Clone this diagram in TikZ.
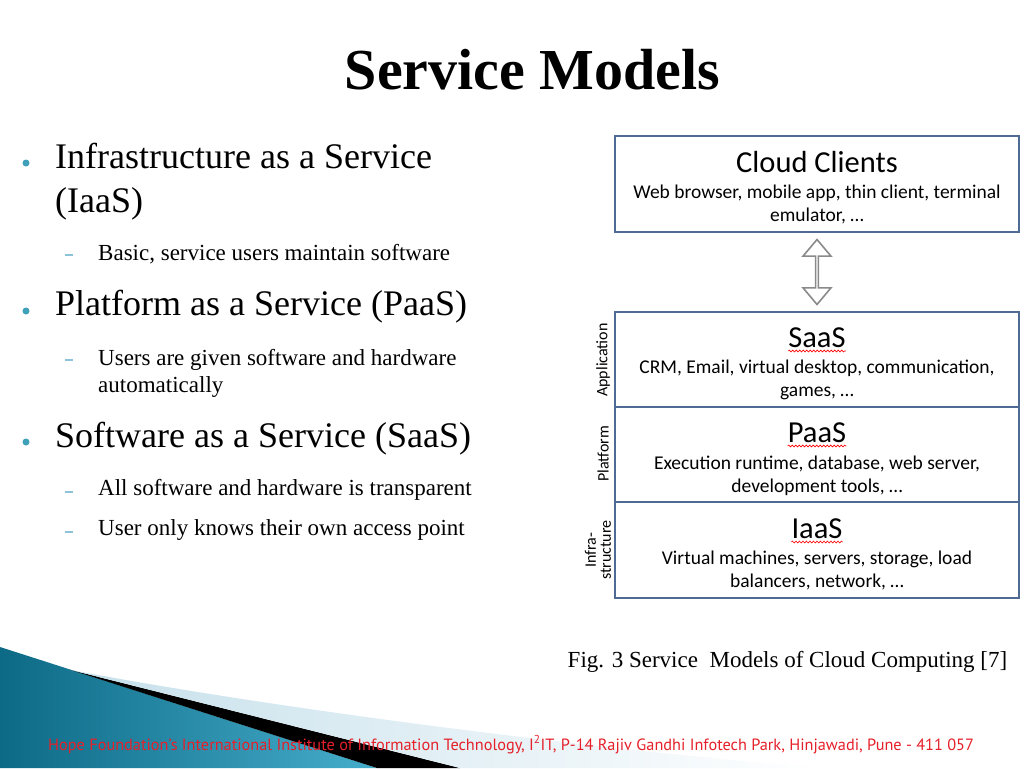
\documentclass[tikz,border=0pt]{standalone}
\usepackage{fontspec}
\setmainfont{Liberation Serif}
\newfontfamily\boxfont{Carlito}
\newfontfamily\footfont{PT Sans}
\usetikzlibrary{positioning,calc,shapes.arrows,decorations.pathmorphing}
\definecolor{boxblue}{HTML}{4F6B94}
\definecolor{arrowgray}{HTML}{8A8A8A}
\definecolor{bulletteal}{HTML}{3FA0BA}
\definecolor{subblue}{HTML}{8CC3DA}
\definecolor{footred}{HTML}{E5202A}
\definecolor{tealdark}{HTML}{0D6A86}
\definecolor{teallight}{HTML}{45ADCB}
\definecolor{paleblue}{HTML}{C6E0EB}

\begin{document}
\begin{tikzpicture}[x=1pt, y=-1pt,
  layer/.style={draw=boxblue, line width=2pt, minimum width=404pt, inner sep=0pt},
  ttl/.style={font=\boxfont\fontsize{30.5}{34}\selectfont, inner sep=0pt, anchor=base},
  desc/.style={font=\boxfont\fontsize{19.5}{23}\selectfont, align=center, inner sep=0pt},
  side/.style={font=\boxfont\fontsize{16}{15}\selectfont, rotate=90, align=center, inner sep=0pt},
  wavy/.style={draw=red, line width=0.6pt, decorate, decoration={snake, amplitude=0.9pt, segment length=3.5pt}},
  bulletdot/.style={fill=bulletteal},
  subdash/.style={fill=subblue, inner sep=0pt, minimum width=8pt, minimum height=2pt},
  lvlone/.style={font=\fontsize{36}{44}\selectfont, anchor=base west, inner sep=0pt},
  lvltwo/.style={font=\fontsize{23}{28}\selectfont, anchor=base west, inner sep=0pt}]
  \useasboundingbox (0,0) rectangle (1024,768);
  \fill[white] (0,0) rectangle (1024,768);

  % bottom swoosh
  \shade[left color=tealdark, right color=teallight] (0,647) -- (377,768) -- (0,768) -- cycle;
  \fill[black] (71,670) -- (460,768) -- (377,768) -- cycle;
  \shade[left color=paleblue, right color=white] (71,670) .. controls (250,704) and (550,745) .. (820,768) -- (460,768) -- cycle;

  % title
  \node[font=\bfseries\fontsize{58}{60}\selectfont, anchor=base, inner sep=0pt] (title) at (532.5,89) {Service Models};

  % bullet list
  \coordinate (b1) at (26,163);
  \coordinate (b2) at (26,311);
  \coordinate (b3) at (26,442);
  \foreach \b in {b1,b2,b3}
    \fill[bulletdot] (\b) circle[radius=3.5pt];

  \node[lvlone] (t1) at (55,168) {Infrastructure as a Service};
  \node[lvlone] (t1b) at (55,212) {(IaaS)};
  \node[subdash] (d1) at (69,255) {};
  \node[lvltwo] (s1) at (98,260) {Basic, service users maintain software};

  \node[lvlone] (t2) at (55,315) {Platform as a Service (PaaS)};
  \node[subdash] (d2) at (69,360) {};
  \node[lvltwo] (s2) at (98,365) {Users are given software and hardware};
  \node[lvltwo] (s2b) at (98,392) {automatically};

  \node[lvlone] (t3) at (55,447) {Software as a Service (SaaS)};
  \node[subdash] (d3) at (69,492) {};
  \node[lvltwo] (s3) at (98,495) {All software and hardware is transparent};
  \node[subdash] (d4) at (69,532) {};
  \node[lvltwo] (s4) at (98,535) {User only knows their own access point};

  % cloud stack
  \node[layer, minimum height=96pt] (cc) at (817,184) {};
  \node[ttl] (ccT) at (817,172) {Cloud Clients};
  \node[desc] (ccD) at (817,204) {Web browser, mobile app, thin client, terminal\\emulator, …};

  \node[layer, minimum height=95pt] (saas) at (817,359.5) {};
  \node[layer, minimum height=95pt] (paas) at (817,454.5) {};
  \node[layer, minimum height=96pt] (iaas) at (817,550) {};

  \node[ttl] (saasT) at (817,347) {SaaS};
  \node[desc] (saasD) at (817,380) {CRM, Email, virtual desktop, communication,\\games, …};
  \node[ttl] (paasT) at (817,442) {PaaS};
  \node[desc] (paasD) at (817,476) {Execution runtime, database, web server,\\development tools, …};
  \node[ttl] (iaasT) at (817,538) {IaaS};
  \node[desc] (iaasD) at (817,570.5) {Virtual machines, servers, storage, load\\balancers, network, …};

  \draw[wavy] ([yshift=-4pt]saasT.base west) -- ([yshift=-4pt]saasT.base east);
  \draw[wavy] ([yshift=-4pt]paasT.base west) -- ([yshift=-4pt]paasT.base east);
  \draw[wavy] ([yshift=-4pt]iaasT.base west) -- ([yshift=-4pt]iaasT.base east);

  \node[side] (appL) at (603,360) {Application};
  \node[side] (platL) at (603,454) {Platform};
  \node[side] (infL) at (598,550) {Infra-\\structure};

  \node[double arrow, draw=arrowgray, line width=1.6pt, fill=white, rotate=90,
    minimum height=65pt, minimum width=28pt, double arrow head extend=7pt,
    double arrow tip angle=80, inner sep=0pt] (arr) at ($(cc.south)!0.5!(saas.north)$) {};

  % caption and footer
  \node[font=\fontsize{23}{26}\selectfont, anchor=base, inner sep=0pt] (cap) at (787.5,667) {Fig. 3 Service\ \ Models of Cloud Computing [7]};
  \node[font=\footfont\fontsize{16.3}{19}\selectfont, text=footred, anchor=base west, inner sep=0pt] (foot) at (48,750) {Hope Foundation’s International Institute of Information Technology, I\textsuperscript{2}IT, P-14 Rajiv Gandhi Infotech Park, Hinjawadi, Pune - 411 057};
\end{tikzpicture}
\end{document}
